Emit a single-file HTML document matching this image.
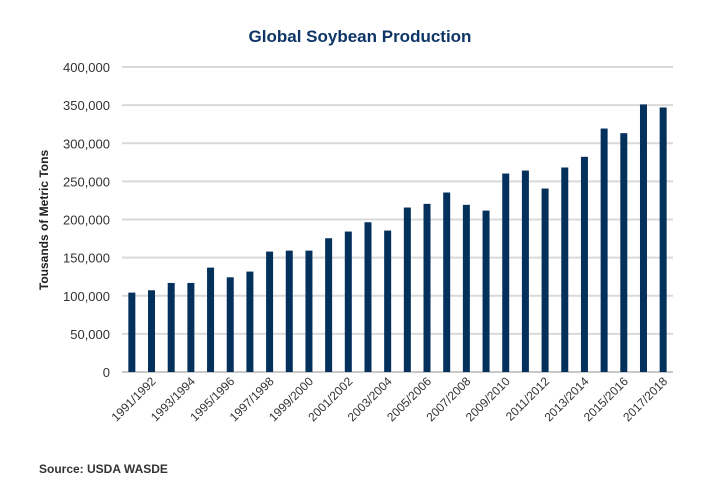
<!DOCTYPE html>
<html><head><meta charset="utf-8"><style>
body{margin:0;background:#fff;}
svg{display:block;font-family:"Liberation Sans",sans-serif;}
</style></head><body>
<svg id="chart" width="720" height="500">
<text x="360" y="42" text-anchor="middle" font-size="17" font-weight="bold" fill="#0d3566">Global Soybean Production</text>
<text transform="translate(48,220) rotate(-90)" text-anchor="middle" font-size="12" font-weight="bold" fill="#222">Tousands of Metric Tons</text>
<text x="39" y="473" font-size="12" font-weight="bold" fill="#333">Source: USDA WASDE</text>
<g id="grid"></g><g id="bars"></g><g id="xl"></g>
</svg>
<script>
const categories = ["1990/1991","1991/1992","1992/1993","1993/1994","1994/1995","1995/1996","1996/1997","1997/1998","1998/1999","1999/2000","2000/2001","2001/2002","2002/2003","2003/2004","2004/2005","2005/2006","2006/2007","2007/2008","2008/2009","2009/2010","2010/2011","2011/2012","2012/2013","2013/2014","2014/2015","2015/2016","2016/2017","2017/2018"];
const production = [104100,107200,116800,116800,136900,124200,131700,157900,159200,159200,175400,184200,196400,185500,215700,220500,235400,219200,211700,260300,264200,240600,268200,282200,319300,313200,350900,346900];
const yTicks = [0,50000,100000,150000,200000,250000,300000,350000,400000];
const NS="http://www.w3.org/2000/svg";
const pLeft=122,pRight=673,pTop=67,pBottom=372,yMax=400000;
const y=v=>pBottom-(v/yMax)*(pBottom-pTop);
const band=(pRight-pLeft)/categories.length;
const x=i=>pLeft+band*(i+0.5);
const grid=document.getElementById('grid'),bars=document.getElementById('bars'),xl=document.getElementById('xl');
function mk(t,a){const e=document.createElementNS(NS,t);for(const k in a)e.setAttribute(k,a[k]);return e;}
yTicks.forEach(v=>{
  const l=mk('line',{x1:pLeft,x2:pRight,y1:y(v),y2:y(v),stroke:v===0?'#c8c8c8':'#d9d9d9','stroke-width':2});
  
  
  grid.appendChild(l);
  const t=mk('text',{x:110,y:y(v)+5,'text-anchor':'end','font-size':13,fill:'#333'});
  t.textContent=v.toLocaleString('en-US');
  
  
  grid.appendChild(t);
});
production.forEach((v,i)=>{
  const r=mk('rect',{x:x(i)-3.5,y:y(v),width:7,height:pBottom-y(v),fill:'#04305c'});
  
  
  bars.appendChild(r);
  if(i%2===1){
    const t=mk('text',{'text-anchor':'end','font-size':12,fill:'#333',transform:`translate(${x(i)+5},${pBottom+10}) rotate(-45)`});
    t.textContent=categories[i];
    
    
    xl.appendChild(t);
  }
});
</script>
</body></html>
